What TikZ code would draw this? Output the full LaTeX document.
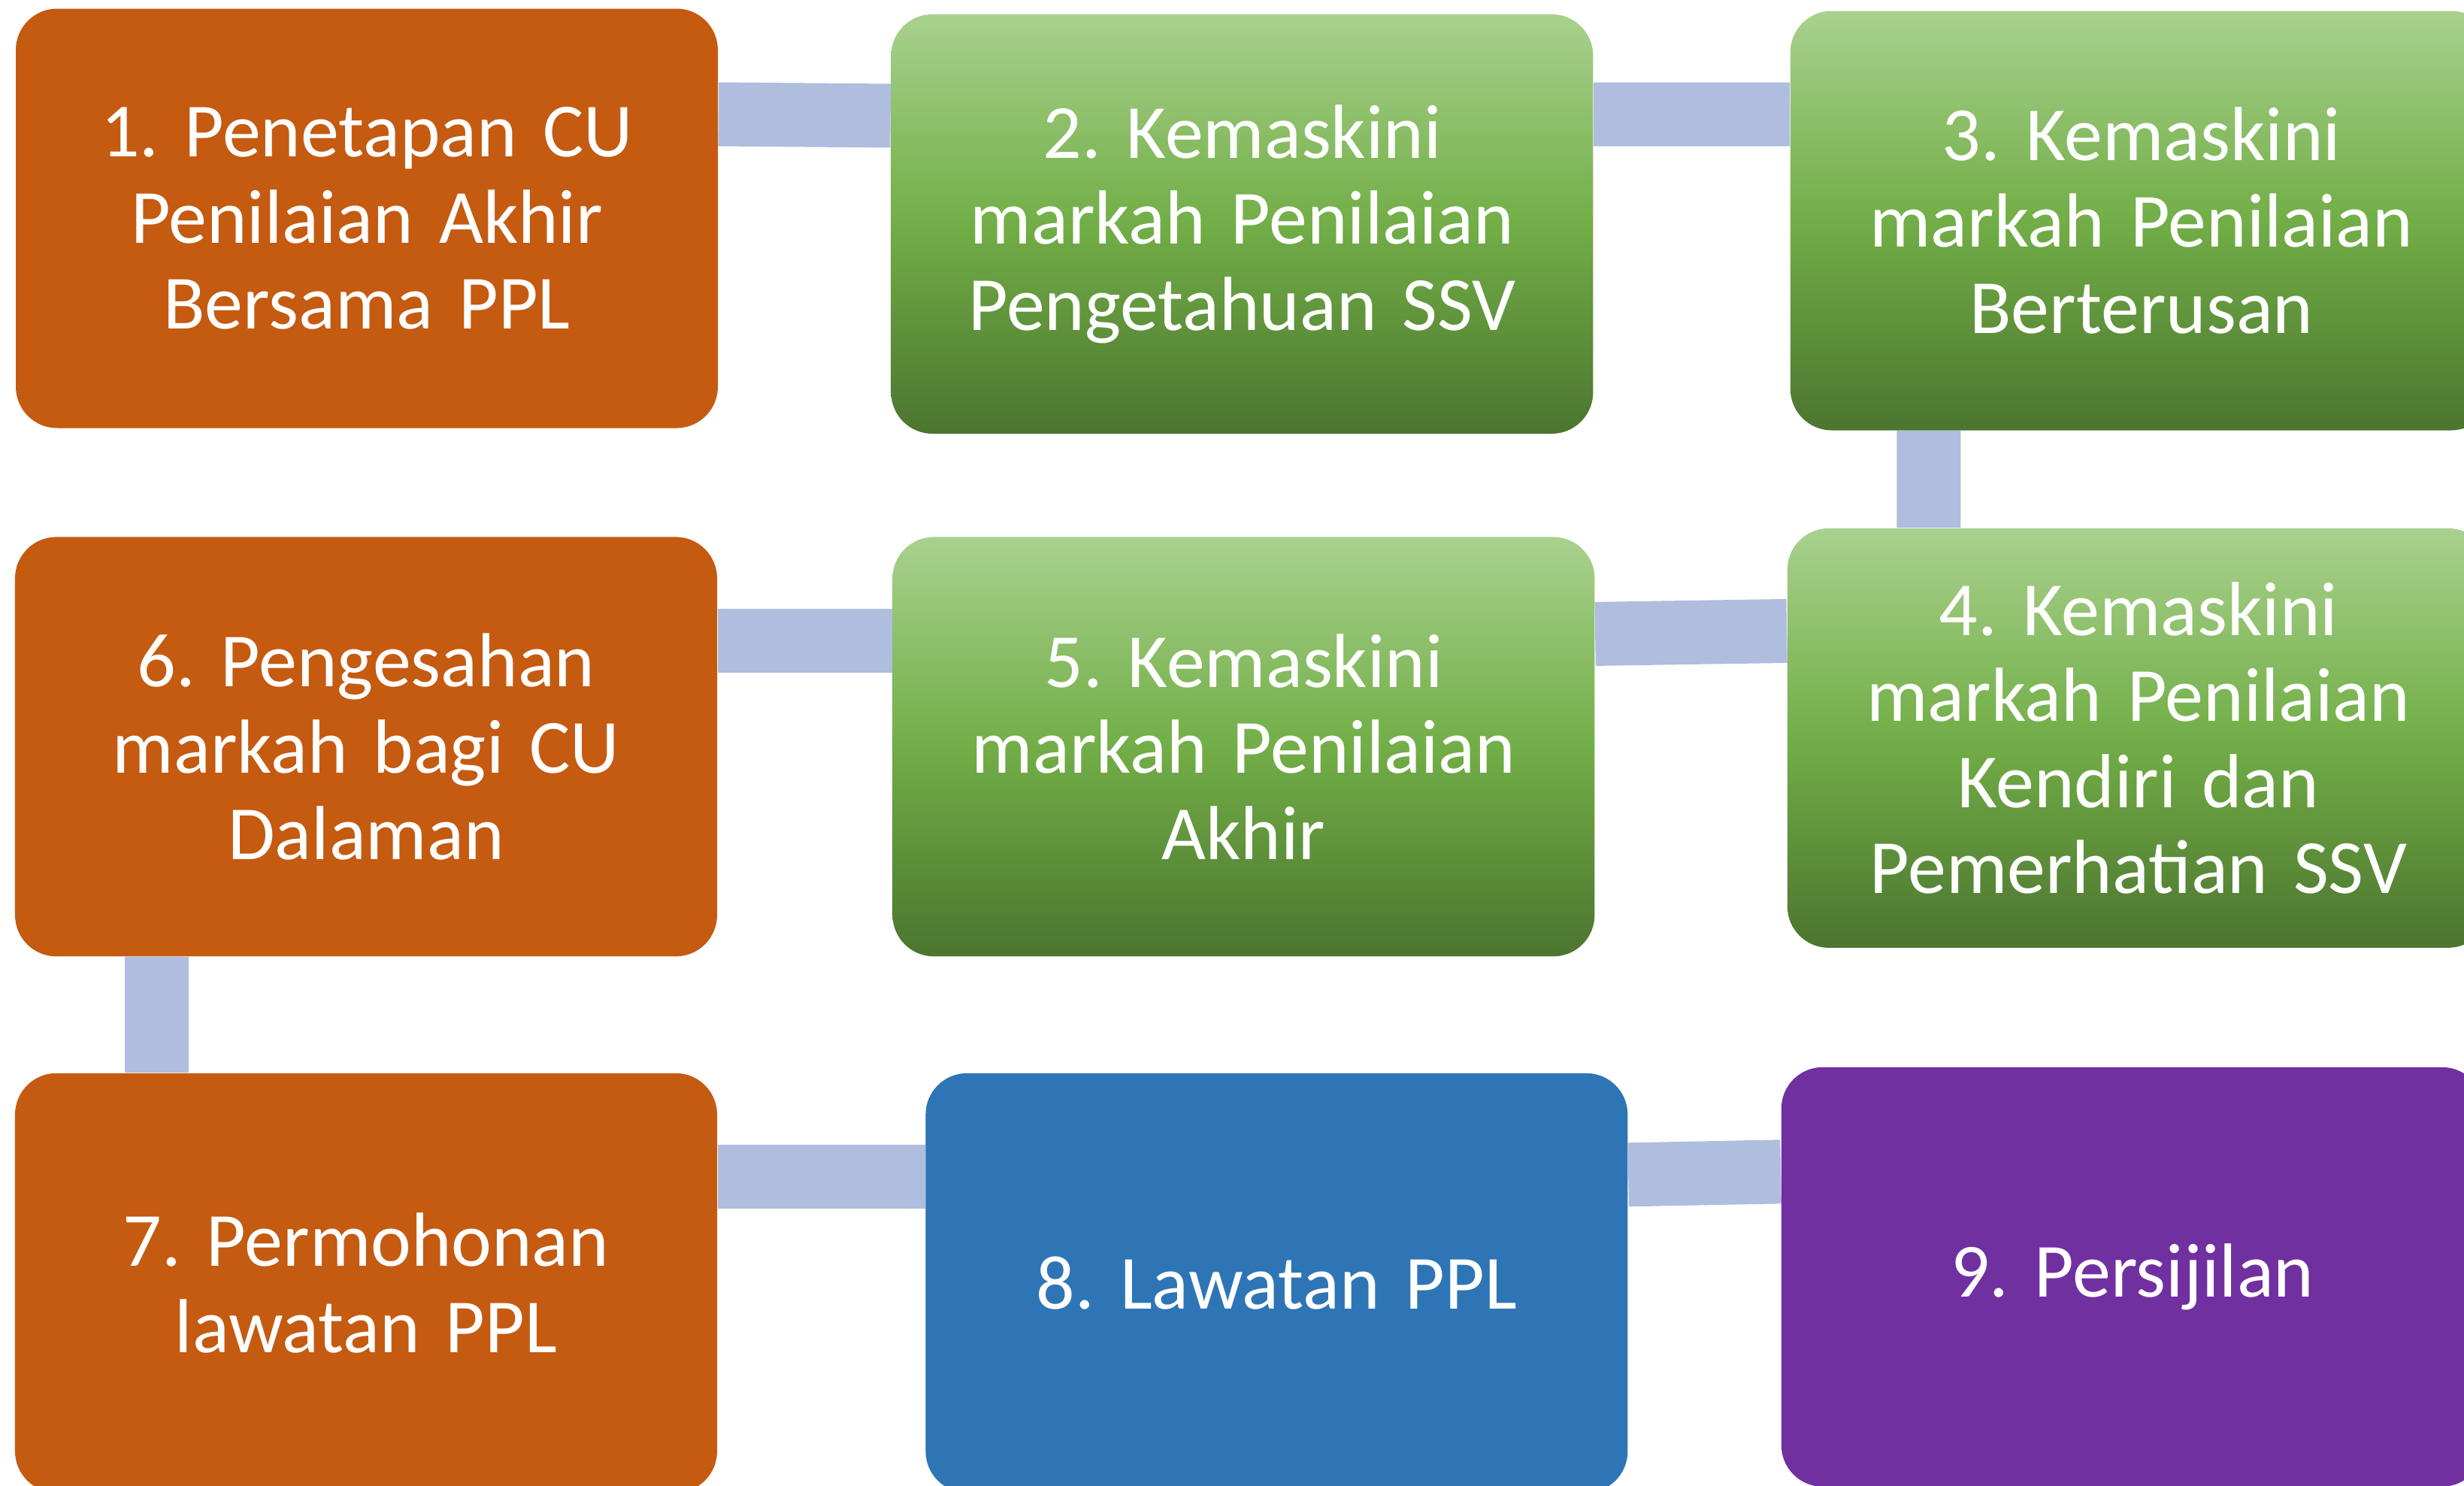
\documentclass[tikz,border=0pt]{standalone}
\usepackage{fontspec}
\setmainfont{Carlito}
\frenchspacing
\usepackage{tikz}
\usetikzlibrary{positioning}
\definecolor{stageorange}{RGB}{197,90,17}
\definecolor{stageblue}{RGB}{46,117,182}
\definecolor{stagepurple}{RGB}{112,48,160}
\definecolor{greentop}{RGB}{169,209,142}
\definecolor{greenmid}{RGB}{114,174,71}
\definecolor{greenbot}{RGB}{76,117,47}
\definecolor{linkfill}{RGB}{175,189,222}
\tikzset{
  stage/.style = {rectangle, rounded corners=0.55cm, minimum width=9.34cm,
    minimum height=5.58cm, text width=8.8cm, inner sep=0pt, align=center,
    text=white, font=\fontsize{29}{32.6}\selectfont},
  orangestage/.style = {stage, fill=stageorange},
  greenstage/.style = {stage, top color=greentop, bottom color=greenbot, middle color=greenmid},
  bluestage/.style = {stage, fill=stageblue},
  purplestage/.style = {stage, fill=stagepurple},
  link/.style = {draw=linkfill, line width=0.85cm}
}

\begin{document}
\begin{tikzpicture}

    \useasboundingbox (0,0) rectangle (32.78,-19.77);
    \clip (0,0) rectangle (32.78,-19.77);

    % Place the stages
    \node [orangestage] (s1) at (4.88,-2.905) {1. Penetapan CU\\Penilaian Akhir\\Bersama PPL};
    \node [greenstage, right=2.29cm of s1, yshift=-0.075cm] (s2) {2. Kemaskini\\markah Penilaian\\Pengetahuan SSV};
    \node [greenstage, right=2.61cm of s2, yshift=0.045cm] (s3) {3. Kemaskini\\markah Penilaian\\Berterusan};
    \node [greenstage, below=1.29cm of s3, xshift=-0.04cm] (s4) {4. Kemaskini\\markah Penilaian\\Kendiri dan\\Pemerhatian SSV};
    \node [greenstage, left=2.55cm of s4, yshift=-0.115cm] (s5) {5. Kemaskini\\markah Penilaian\\Akhir};
    \node [orangestage, left=2.32cm of s5] (s6) {6. Pengesahan\\markah bagi CU\\Dalaman};
    \node [orangestage, below=1.54cm of s6] (s7) {7. Permohonan\\lawatan PPL};
    \node [bluestage, right=2.76cm of s7] (s8) {8. Lawatan PPL};
    \node [purplestage, right=2.03cm of s8, yshift=0.08cm] (s9) {9. Persijilan};

    % Draw the links between the stages
    \draw [link] ([yshift=1.385cm]s1.east) -- ([yshift=1.44cm]s2.west);
    \draw [link] ([yshift=1.46cm]s2.east) -- ([yshift=1.415cm]s3.west);
    \draw [link] ([xshift=-2.83cm]s3.south) -- ([xshift=-2.79cm]s4.north);
    \draw [link] ([yshift=1.425cm]s4.west) -- ([yshift=1.5cm]s5.east);
    \draw [link] ([yshift=1.41cm]s5.west) -- ([yshift=1.41cm]s6.east);
    \draw [link] ([xshift=-2.785cm]s6.south) -- ([xshift=-2.785cm]s7.north);
    \draw [link] ([yshift=1.41cm]s7.east) -- ([yshift=1.41cm]s8.west);
    \draw [link] ([yshift=1.44cm]s8.east) -- ([yshift=1.4cm]s9.west);

\end{tikzpicture}
\end{document}
